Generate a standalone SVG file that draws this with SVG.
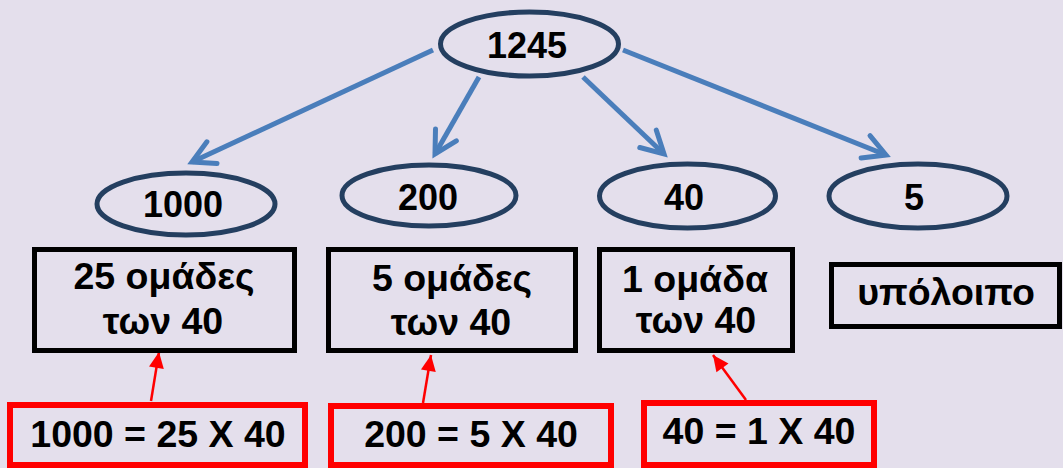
<svg xmlns="http://www.w3.org/2000/svg" width="1063" height="468" viewBox="0 0 1063 468">
<style>
.bg{fill:#E4DFEC}
.ell{fill:none;stroke:#243F60;stroke-width:5}
.box{fill:none;stroke:#000;stroke-width:5}
.rbox{fill:none;stroke:#FF0000;stroke-width:6}
.t{font-family:"Liberation Sans",Arial,sans-serif;font-weight:bold;font-size:36px;fill:#000;text-anchor:middle}
.tb{font-size:37.5px}
.blue{fill:none;stroke:#4A7EBB;stroke-width:5;marker-end:url(#bh)}
.red{fill:none;stroke:#FF0000;stroke-width:2.5;marker-end:url(#rh)}
</style>
<defs>
<marker id="bh" markerUnits="userSpaceOnUse" viewBox="-28 -16 32 32" markerWidth="32" markerHeight="32" refX="0" refY="0" orient="auto" overflow="visible">
<path d="M-22,-12 L0,0 L-22,12" fill="none" stroke="#4A7EBB" stroke-width="5" stroke-linecap="round" stroke-linejoin="miter"/>
</marker>
<marker id="rh" markerUnits="userSpaceOnUse" viewBox="-18 -9 20 18" markerWidth="20" markerHeight="18" refX="0" refY="0" orient="auto" overflow="visible">
<path d="M-16,-7.5 L0,0 L-16,7.5 z" fill="#FF0000"/>
</marker>
</defs>
<rect class="bg" x="0" y="0" width="1063" height="468"/>
<g id="connectors">
<path class="blue" d="M433,50 L192,162"/>
<path class="blue" d="M479,77 L435,154"/>
<path class="blue" d="M583,77 L664,154"/>
<path class="blue" d="M623,50 L886,155"/>
<path class="red" d="M151,401 L159,352"/>
<path class="red" d="M423,403 L431,355"/>
<path class="red" d="M746,400 L713,355"/>
</g>
<g id="n1245"><ellipse class="ell" cx="529.5" cy="44" rx="89" ry="32"/><text class="t" x="527" y="58">1245</text></g>
<g id="n1000"><ellipse class="ell" cx="186" cy="204" rx="89" ry="31"/><text class="t" x="183" y="217">1000</text></g>
<g id="n200"><ellipse class="ell" cx="429" cy="195.5" rx="87" ry="30.5"/><text class="t" x="428" y="210">200</text></g>
<g id="n40"><ellipse class="ell" cx="687.5" cy="196" rx="88" ry="32"/><text class="t" x="684" y="210">40</text></g>
<g id="n5"><ellipse class="ell" cx="918" cy="196" rx="89" ry="32"/><text class="t" x="914" y="210">5</text></g>
<g id="b25"><rect class="box" x="34.5" y="249.5" width="260" height="101"/><text class="t tb" x="164" y="289">25 ομάδες</text><text class="t tb" x="163" y="334">των 40</text></g>
<g id="b5"><rect class="box" x="328.5" y="249.5" width="247" height="101"/><text class="t tb" x="452" y="291">5 ομάδες</text><text class="t tb" x="451" y="335">των 40</text></g>
<g id="b1"><rect class="box" x="599.5" y="249.5" width="193" height="101"/><text class="t tb" x="695" y="292">1 ομάδα</text><text class="t tb" x="696" y="333">των 40</text></g>
<g id="brest"><rect class="box" x="831.5" y="264.5" width="228" height="62"/><text class="t tb" x="946" y="305">υπόλοιπο</text></g>
<g id="r1000"><rect class="rbox" x="10" y="405" width="295" height="60"/><text class="t tb" x="158" y="447">1000 = 25 X 40</text></g>
<g id="r200"><rect class="rbox" x="331" y="406" width="280" height="59"/><text class="t tb" x="471" y="447">200 = 5 X 40</text></g>
<g id="r40"><rect class="rbox" x="644" y="403" width="230" height="62"/><text class="t tb" x="759" y="444">40 = 1 X 40</text></g>
</svg>
